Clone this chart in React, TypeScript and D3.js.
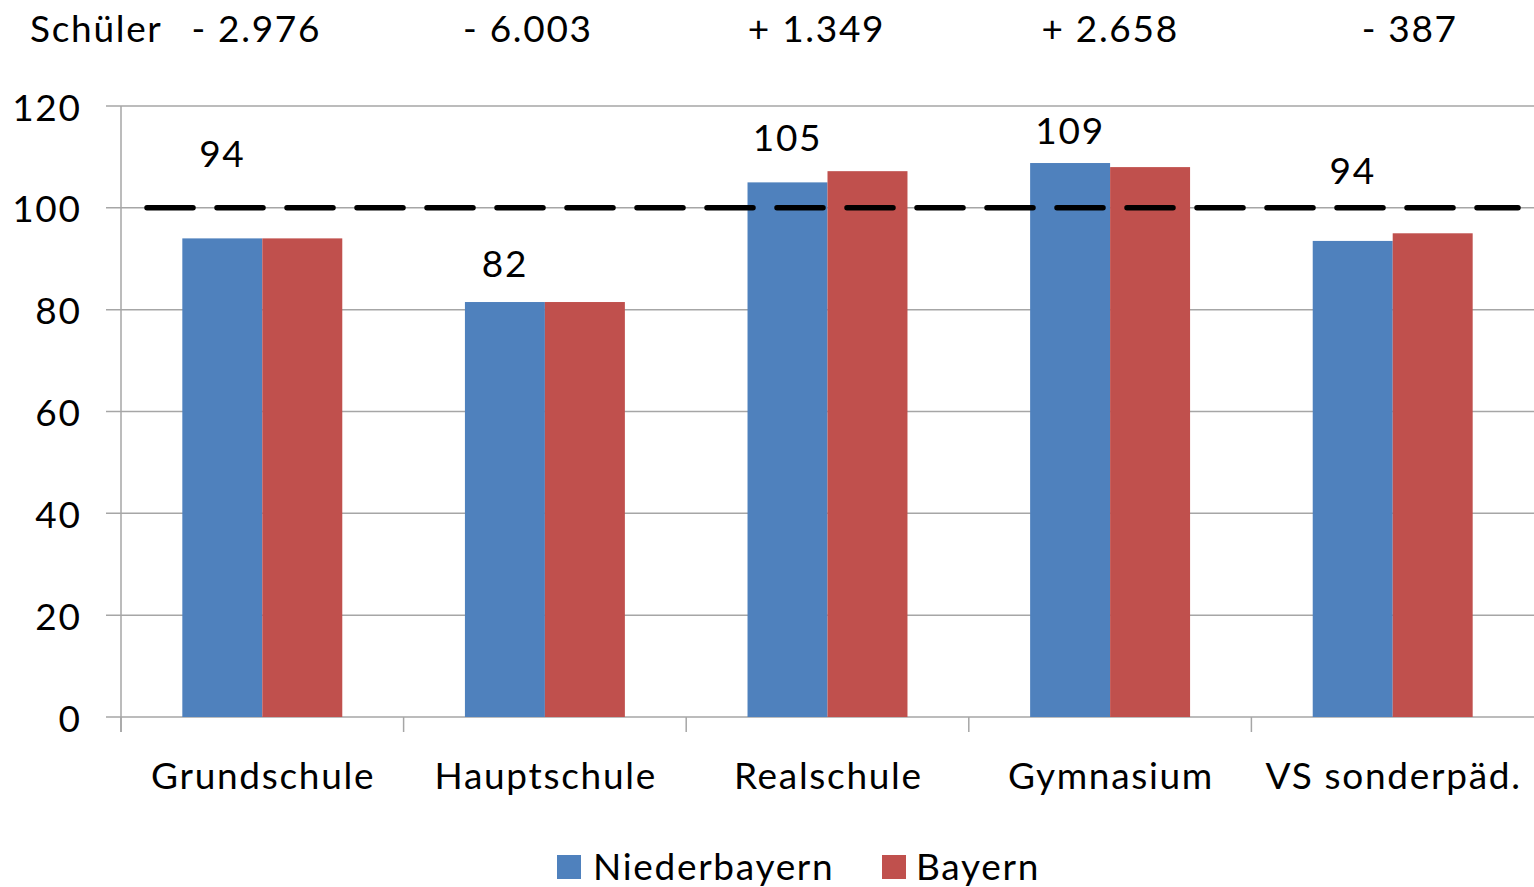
import React, { useEffect } from "react";
import * as d3 from "d3";

const categories = ["Grundschule", "Hauptschule", "Realschule", "Gymnasium", "VS sonderpäd."];
const seriesNames = ["Niederbayern", "Bayern"];
const niederbayern = [94, 81.5, 105, 108.8, 93.5];
const bayern = [94, 81.5, 107.2, 108, 95];
const dataLabels = ["94", "82", "105", "109", "94"];
const dataLabelLevels = [110.8, 89.2, 114.1, 115.3, 107.5];
const schuelerChanges = ["- 2.976", "- 6.003", "+ 1.349", "+ 2.658", "- 387"];
const yTicks = [0, 20, 40, 60, 80, 100, 120];
const referenceLine = 100;

const W = 1534;
const H = 887;
const colors = ["#4F81BD", "#C0504D"];
const FONT = "Lato, 'Open Sans', sans-serif";
const LS = 1.7;
const changeDx = [-6, -17, -11, 0, 17];

export default function App() {
  useEffect(() => {
    document.body.style.margin = "0";
  }, []);

  const x0 = d3.scaleBand<string>().domain(categories).range([121, 1534]).padding(0);
  const bw = x0.bandwidth();
  const x1 = d3.scaleBand<string>().domain(seriesNames).range([bw * 0.217, bw * 0.783]).padding(0);
  const y = d3.scaleLinear().domain([0, 120]).range([717, 106]);
  const values = [niederbayern, bayern];
  const gridColor = "#A6A6A6";

  return (
    <svg width={W} height={H} style={{ display: "block", background: "#fff" }} fontFamily={FONT} letterSpacing={LS}>
      {/* gridlines */}
      {yTicks.map((t) => (
        <g key={t}>
          <line x1={106} x2={W} y1={y(t)} y2={y(t)} stroke={gridColor} strokeWidth={1.5} />
          <text x={80 + LS} y={y(t)} textAnchor="end" dominantBaseline="central" fontSize={37} fill="#000">
            {t}
          </text>
        </g>
      ))}
      {/* y axis */}
      <line x1={121} x2={121} y1={y(120)} y2={732} stroke={gridColor} strokeWidth={1.5} />
      {/* category ticks */}
      {categories.map((c) => (
        <line key={c} x1={x0(c)!} x2={x0(c)!} y1={y(0)} y2={732} stroke={gridColor} strokeWidth={1.5} />
      ))}
      {/* bars */}
      {categories.map((c, i) => (
        <g key={c} transform={`translate(${x0(c)},0)`}>
          {seriesNames.map((s, j) => (
            <rect
              key={s}
              x={x1(s)}
              width={x1.bandwidth()}
              y={y(values[j][i])}
              height={y(0) - y(values[j][i])}
              fill={colors[j]}
            />
          ))}
        </g>
      ))}
      {/* reference line */}
      <line
        x1={147}
        x2={1518}
        y1={y(referenceLine)}
        y2={y(referenceLine)}
        stroke="#000"
        strokeWidth={5.5}
        strokeDasharray="46 24"
        strokeLinecap="round"
      />
      {/* data labels */}
      {categories.map((c, i) => (
        <text
          key={c}
          x={x0(c)! + x1(seriesNames[0])! + x1.bandwidth() / 2}
          y={y(dataLabelLevels[i])}
          textAnchor="middle"
          dominantBaseline="central"
          fontSize={37}
        >
          {dataLabels[i]}
        </text>
      ))}
      {/* category labels */}
      {categories.map((c) => (
        <text key={c} x={x0(c)! + bw / 2 + LS / 2} y={789} textAnchor="middle" fontSize={37}>
          {c}
        </text>
      ))}
      {/* top row */}
      <text x={30} y={42} fontSize={37}>Schüler</text>
      {categories.map((c, i) => (
        <text key={c} x={x0(c)! + bw / 2 + changeDx[i]} y={42} textAnchor="middle" fontSize={37}>
          {schuelerChanges[i]}
        </text>
      ))}
      {/* legend */}
      <g>
        <rect x={557} y={855} width={24} height={24} fill={colors[0]} />
        <text x={593} y={880} fontSize={37}>{seriesNames[0]}</text>
        <rect x={882} y={855} width={24} height={24} fill={colors[1]} />
        <text x={916} y={880} fontSize={37}>{seriesNames[1]}</text>
      </g>
    </svg>
  );
}
